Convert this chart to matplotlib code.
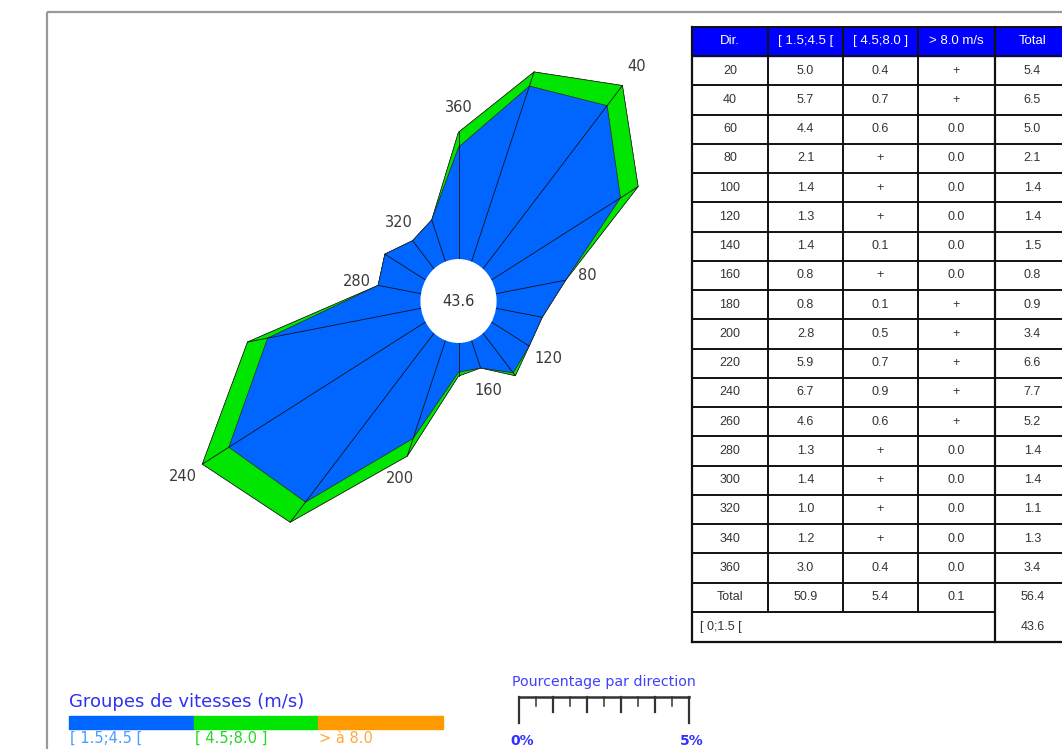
import numpy as np
import matplotlib
matplotlib.use('Agg')
import matplotlib.pyplot as plt
from matplotlib.patches import Ellipse, Rectangle

# wind directions (deg) and % per speed class ; None = trace ("+")
directions = [20, 40, 60, 80, 100, 120, 140, 160, 180, 200, 220, 240, 260, 280, 300, 320, 340, 360]
low_speed  = [5.0, 5.7, 4.4, 2.1, 1.4, 1.3, 1.4, 0.8, 0.8, 2.8, 5.9, 6.7, 4.6, 1.3, 1.4, 1.0, 1.2, 3.0]
mid_speed  = [0.4, 0.7, 0.6, None, None, None, 0.1, None, 0.1, 0.5, 0.7, 0.9, 0.6, None, None, None, None, 0.4]
high_speed = [None, None, 0.0, 0.0, 0.0, 0.0, 0.0, 0.0, None, None, None, None, None, 0.0, 0.0, 0.0, 0.0, 0.0]
totals     = [5.4, 6.5, 5.0, 2.1, 1.4, 1.4, 1.5, 0.8, 0.9, 3.4, 6.6, 7.7, 5.2, 1.4, 1.4, 1.1, 1.3, 3.4]
col_totals = [50.9, 5.4, 0.1, 56.4]
calm = 43.6
labelled_dirs = [40, 80, 120, 160, 200, 240, 280, 320, 360]

header = ['Dir.', '[ 1.5;4.5 [', '[ 4.5;8.0 ]', '> 8.0 m/s', 'Total']
class_labels = ['[ 1.5;4.5 [', '[ 4.5;8.0 ]', '> à 8.0']

BLUE = '#0066ff'
GREEN = '#00e600'
ORANGE = '#ff9900'
R0 = 1.1          # radius of the calm circle, in %
SX, SY = 34.0, 37.5   # px per % on the rose
CX, CY = 458.5, 301.0

W, H = 1062, 749


def num(v):
    return 0.0 if v is None else v


def fmt(v):
    return '+' if v is None else f'{v:.1f}'


fig = plt.figure(figsize=(W / 100, H / 100), dpi=100)

# overlay in pixel coords (frame, table, legends)
ov = fig.add_axes([0, 0, 1, 1], zorder=0)
ov.set_xlim(0, W)
ov.set_ylim(H, 0)
ov.axis('off')

# frame
ov.plot([46.5, W + 5], [11.5, 11.5], color='#999999', lw=1.6, solid_capstyle='butt')
ov.plot([46.5, 46.5], [11.5, H + 5], color='#999999', lw=1.6, solid_capstyle='butt')

# ---- rose ----
ax_l, ax_r, ax_t, ax_b = 150, 670, 40, 540
rose = fig.add_axes([ax_l / W, 1 - ax_b / H, (ax_r - ax_l) / W, (ax_b - ax_t) / H], zorder=1)
rose.patch.set_alpha(0)
rose.set_xlim(-(CX - ax_l) / SX, (ax_r - CX) / SX)
rose.set_ylim(-(ax_b - CY) / SY, (CY - ax_t) / SY)
rose.axis('off')

theta = np.radians(directions)
r_low = R0 + np.array(low_speed)
r_mid = r_low + np.array([num(v) for v in mid_speed])
r_high = r_mid + np.array([num(v) for v in high_speed])

for r, c in [(r_high, ORANGE), (r_mid, GREEN), (r_low, BLUE)]:
    rose.fill(r * np.sin(theta), r * np.cos(theta), color=c, ec='#222222', lw=0.5)

for t, r in zip(theta, r_high):
    rose.plot([R0 * np.sin(t), r * np.sin(t)], [R0 * np.cos(t), r * np.cos(t)],
              color='#111111', lw=0.6)

rose.add_patch(Ellipse((0, 0), 2 * R0, 2 * R0, color='white', zorder=5))
rose.text(0, 0, f'{calm:.1f}', ha='center', va='center', fontsize=10.5, color='#333333', zorder=6)

for d, r in zip(directions, r_high):
    if d in labelled_dirs:
        t = np.radians(d)
        rl = r + 0.65
        rose.text(rl * np.sin(t), rl * np.cos(t), str(d), ha='center', va='center',
                  fontsize=10.5, color='#3a3a3a')

# ---- table ----
x_edges = [692, 768, 843, 918, 995, 1070]
y_top, y_head = 26.5, 56.0
row_h = 29.25
rows = [[str(d), fmt(a), fmt(b), fmt(c), fmt(t)]
        for d, a, b, c, t in zip(directions, low_speed, mid_speed, high_speed, totals)]
rows.append(['Total'] + [f'{v:.1f}' for v in col_totals])
y_rows = [y_head + i * row_h for i in range(len(rows) + 1)]
y_bot = y_rows[-1] + 30.5

tf = 'Liberation Sans'
ov.add_patch(Rectangle((x_edges[0], y_top), x_edges[-1] - x_edges[0], y_head - y_top,
                       color='#0000ff', zorder=1))
for i, h in enumerate(header):
    ov.text((x_edges[i] + x_edges[i + 1]) / 2, (y_top + y_head) / 2, h, ha='center', va='center',
            color='white', fontsize=9.5, family=tf, zorder=3)

for j, row in enumerate(rows):
    yc = (y_rows[j] + y_rows[j + 1]) / 2
    for i, s in enumerate(row):
        ov.text((x_edges[i] + x_edges[i + 1]) / 2, yc, s, ha='center', va='center',
                color='#333333', fontsize=9, family=tf, zorder=3)

yc = (y_rows[-1] + y_bot) / 2
ov.text(x_edges[0] + 8, yc, '[ 0;1.5 [', ha='left', va='center', color='#333333', fontsize=9, family=tf)
ov.text((x_edges[4] + x_edges[5]) / 2, yc, f'{calm:.1f}', ha='center', va='center',
        color='#333333', fontsize=9, family=tf)

lc = '#111111'
for y in [y_top, y_head] + y_rows[1:-1]:
    ov.plot([x_edges[0], x_edges[-1]], [y, y], color=lc, lw=1.4, zorder=4)
ov.plot([x_edges[0], x_edges[4]], [y_rows[-1], y_rows[-1]], color=lc, lw=1.4, zorder=4)
ov.plot([x_edges[0], x_edges[-1]], [y_bot, y_bot], color=lc, lw=1.6, zorder=4)
for x in x_edges[1:4]:
    ov.plot([x, x], [y_top, y_rows[-1]], color=lc, lw=1.4, zorder=4)
for x in [x_edges[0], x_edges[4]]:
    ov.plot([x, x], [y_top, y_bot], color=lc, lw=1.6, zorder=4)

# ---- speed classes legend ----
ov.text(69, 707, 'Groupes de vitesses (m/s)', ha='left', va='baseline', fontsize=13, color='#3030f0')
seg = 124.7
for i, (c, lab, tc) in enumerate(zip([BLUE, GREEN, ORANGE], class_labels,
                                     ['#4a9cff', '#22d822', '#ffaa3a'])):
    ov.add_patch(Rectangle((69 + i * seg, 716), seg, 13, color=c))
    ov.text(69 + i * seg + 1, 731, lab, ha='left', va='top', fontsize=10.5, color=tc)

# ---- scale ruler ----
ov.text(512, 686, 'Pourcentage par direction', ha='left', va='baseline', fontsize=10.2, color='#4040ff')
x0, y0 = 518.5, 697
for k in range(11):
    x = x0 + k * SX / 2
    y1 = 723 if k in (0, 10) else (712 if k % 2 == 0 else 706)
    ov.plot([x, x], [y0, y1], color='#333333', lw=1.6 if k % 2 == 0 else 1.1)
ov.plot([x0, x0 + 5 * SX], [y0, y0], color='#333333', lw=1.8)
ov.text(x0 + 4, 741, '0%', ha='center', va='center', fontsize=10, color='#3030ff', weight='bold')
ov.text(x0 + 5 * SX + 3, 741, '5%', ha='center', va='center', fontsize=10, color='#3030ff', weight='bold')

fig.savefig('out.png', dpi=100)
